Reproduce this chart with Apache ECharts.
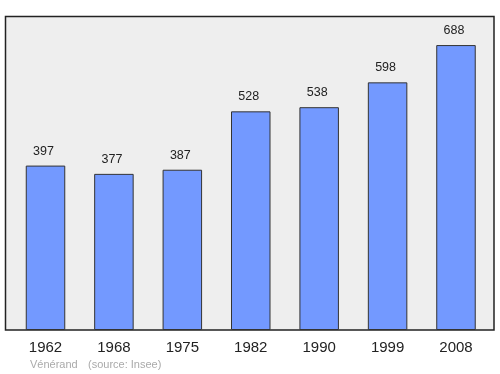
<!DOCTYPE html>
<html>
<head>
<meta charset="utf-8">
<script src="https://cdn.jsdelivr.net/npm/echarts@6/dist/echarts.min.js"></script>
<style>html,body{margin:0;padding:0;background:#fff}#c{width:500px;height:374px}</style>
</head>
<body>
<div id="c"></div>
<script>
const years = ['1962', '1968', '1975', '1982', '1990', '1999', '2008'];
const population = [397, 377, 387, 528, 538, 598, 688];
const footerLeft = 'Vénérand';
const footerRight = '(source: Insee)';

const chart = echarts.init(document.getElementById('c'), null, {renderer: 'canvas'});
const font = 'Liberation Sans, Arial, sans-serif';
chart.setOption({
  animation: false,
  textStyle: {fontFamily: font},
  graphic: [
    {type: 'rect', z: 0, shape: {x: 5.5, y: 16.5, width: 488.5, height: 313.5},
     style: {fill: '#eeeeee', stroke: '#222222', lineWidth: 1.5}},
    {type: 'text', left: 30, top: 359.5, style: {text: footerLeft, fill: '#aaaaaa', font: '11px ' + font}},
    {type: 'text', left: 88, top: 359.5, style: {text: footerRight, fill: '#aaaaaa', font: '11px ' + font}}
  ],
  grid: {left: 11.3, right: 9.8, top: 16.5, bottom: 44},
  xAxis: {
    type: 'category', data: years,
    axisLine: {show: false}, axisTick: {show: false},
    axisLabel: {color: '#222', fontSize: 15, margin: 10, fontFamily: font}
  },
  yAxis: {type: 'value', min: 0, max: 757, show: false, splitLine: {show: false}},
  series: [{
    type: 'bar', data: population, barWidth: 39.5, z: 2,
    itemStyle: {color: '#7399ff', borderColor: '#333', borderWidth: 1},
    label: {show: true, position: 'top', distance: 8, offset: [-2, 0], color: '#222', fontSize: 12.5, fontFamily: font}
  }]
});
</script>
</body>
</html>
